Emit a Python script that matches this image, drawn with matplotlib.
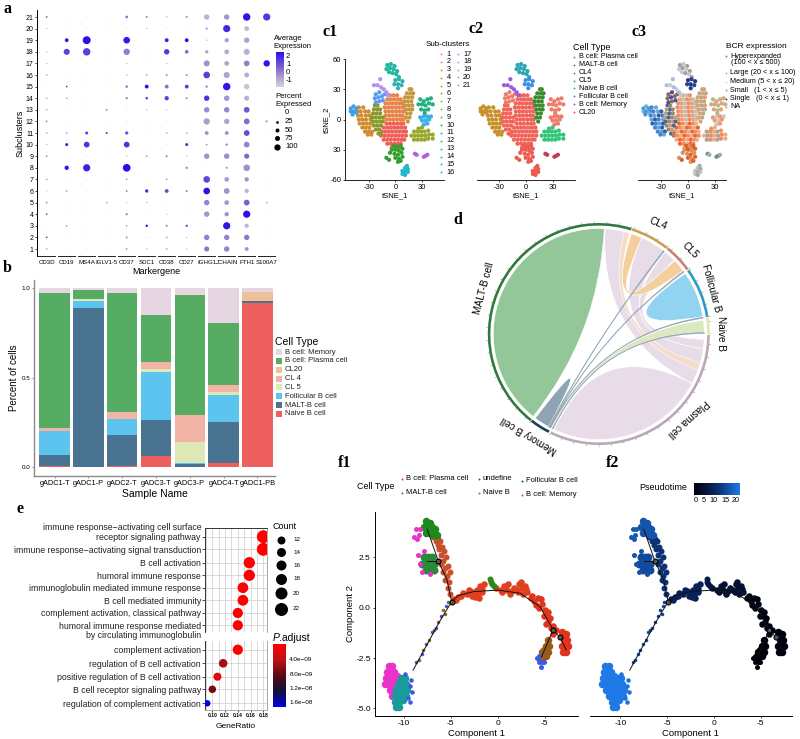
import matplotlib
matplotlib.use('Agg')
import matplotlib.pyplot as plt
import numpy as np
from matplotlib.colors import LinearSegmentedColormap
from matplotlib.patches import Wedge, PathPatch, Rectangle
from matplotlib.path import Path

plt.rcParams['font.family'] = ['Liberation Sans', 'DejaVu Sans']
plt.rcParams['axes.unicode_minus'] = False

W, H = 800, 739

######### panel a: dot plot #########
genes = ['CD3D', 'CD19', 'MS4A', 'IGLV1-5', 'CD37', 'SDC1', 'CD38', 'CD27', 'IGHG1', 'JCHAIN', 'FTH1', 'S100A7']
subclusters = list(range(21, 0, -1))
pct = [
    [5, 1, 1, 1, 10, 5, 3, 5, 40, 40, 75, 70],
    [2, 1, 1, 1, 1, 2, 1, 1, 5, 70, 30, 1],
    [1, 20, 85, 1, 60, 1, 20, 20, 3, 25, 40, 1],
    [2, 50, 75, 1, 55, 1, 40, 18, 15, 30, 50, 1],
    [2, 1, 1, 1, 2, 1, 2, 1, 50, 30, 45, 55],
    [3, 1, 1, 1, 3, 3, 6, 5, 60, 50, 30, 1],
    [1, 5, 1, 1, 8, 20, 20, 20, 6, 75, 40, 1],
    [3, 3, 1, 1, 6, 8, 25, 5, 40, 40, 35, 1],
    [3, 1, 1, 4, 1, 2, 2, 1, 40, 40, 45, 1],
    [4, 1, 1, 1, 1, 1, 1, 1, 55, 40, 45, 5],
    [3, 3, 12, 5, 15, 1, 3, 3, 20, 20, 45, 1],
    [2, 12, 45, 1, 45, 1, 1, 12, 3, 6, 45, 1],
    [4, 1, 1, 1, 2, 3, 5, 2, 40, 40, 35, 1],
    [1, 25, 70, 1, 80, 1, 1, 8, 1, 5, 60, 1],
    [3, 1, 1, 1, 3, 1, 3, 1, 60, 30, 25, 1],
    [2, 3, 1, 1, 4, 15, 20, 5, 60, 45, 25, 1],
    [4, 1, 1, 3, 2, 2, 1, 1, 40, 30, 45, 4],
    [5, 1, 1, 1, 6, 1, 2, 1, 40, 25, 70, 1],
    [1, 3, 1, 1, 3, 8, 6, 8, 1, 70, 25, 1],
    [5, 1, 1, 1, 5, 1, 4, 2, 40, 40, 40, 1],
    [3, 1, 1, 1, 4, 2, 4, 2, 35, 40, 20, 1],
]
expr = [
    [.3, -1, -1, -1, .3, .3, -.5, 0, -.6, -.2, 1.9, 1.3],
    [-.5, -1, -1, -1, -1, -.5, -1, -1, .3, 1.6, -.7, -1],
    [-1, 1.8, 2, -1, 1.8, -1, 1.8, 2, -.7, -.3, -.4, -1],
    [-.5, 1.2, 1.2, -1, .2, -1, 1.3, .5, -.3, -.5, -.6, -1],
    [-.5, -1, -1, -1, -.5, -1, -.5, -1, -.1, -.4, .2, 1.9],
    [-.2, -1, -1, -1, -.5, .2, -.2, .2, 1.2, -.4, -.5, -1],
    [-1, .8, -1, -1, .5, 2, .4, 1.2, .5, 1.9, -.9, -1],
    [-.2, 0, -1, -1, .3, 1.5, 1.2, .2, 1.4, -.1, -.6, -1],
    [-.2, -1, -1, .3, -.6, -.3, -.7, -.8, 0, .1, .8, -1],
    [.3, -1, -1, -1, -.8, -1, -.9, -.9, -.3, -.4, .5, .2],
    [-.2, .2, 1.2, 1.5, .9, -.9, -.2, -.2, -.1, -.1, 1, -1],
    [-.4, 1.8, 1.4, -1, 1.4, -1, -1, 1.5, .4, .5, .1, -1],
    [.2, -1, -1, -1, -.5, .2, .4, -.5, -.1, 0, .6, -1],
    [-1, 1.9, 1.7, -1, 2, -1, -1, 0, -.8, .2, -.1, -1],
    [0, -1, -1, -1, .2, -.9, .3, -1, 1.1, -.3, -.1, -1],
    [-.6, .3, -1, -1, .4, 1.6, 1, .4, 2, -.1, -.7, -1],
    [.2, -1, -1, 0, -.8, -.3, -.9, -.9, .1, -.2, .7, -.6],
    [.5, -1, -1, -1, .3, -.8, -.7, -1, -.2, -.1, 2, -1],
    [-1, .2, -.9, -1, .1, 1.8, .1, .8, -1, 1.9, -.7, -1],
    [.7, -1, -1, -1, .1, -.6, -.3, -.5, .2, .1, .3, -1],
    [-.1, -1, -1, -1, .1, .1, -.3, -.6, .3, .1, -.1, -1],
]

######### panel b: stacked bars #########
samples = ['gADC1-T', 'gADC1-P', 'gADC2-T', 'gADC3-T', 'gADC3-P', 'gADC4-T', 'gADC1-PB']
stack_names = ['Naive B cell', 'MALT-B cell', 'Follicular B cell', 'CL 5', 'CL 4', 'CL20', 'B cell: Plasma cell', 'B cell: Memory']
stack_colors = ['#ee6060', '#4a7391', '#5dc4ef', '#dde8b4', '#f2b4a6', '#f0c09a', '#55ac62', '#e6d6e2']
naive_b = [.005, 0, .005, .06, 0, .02, .915]
malt_b = [.06, .89, .175, .205, .015, .23, .01]
follicular_b = [.135, .04, .09, .265, .005, .155, 0]
cl5 = [0, .01, 0, .015, .12, .015, 0]
cl4 = [.02, 0, .035, .04, .15, .04, 0]
cl20 = [0, 0, 0, 0, 0, 0, .055]
plasma = [.75, .05, .665, .265, .67, .345, 0]
memory = [.03, .01, .03, .15, .04, .195, .02]

######### panel c: tSNE cells, one list per sub-cluster #########
red_pts = [(-10,-4),(-6,-4),(-2,-4),(2,-4),(6,-4),(9,-4),(-13,-8),(-9,-8),(-5,-8),(-1,-8),(3,-8),(7,-8),(11,-8),
           (-15,-12),(-11,-12),(-7,-12),(-3,-12),(1,-12),(5,-12),(9,-12),(12,-12),(-16,-16),(-12,-16),(-8,-16),(-4,-16),
           (0,-16),(4,-16),(8,-16),(12,-16),(-13,-20),(-9,-20),(-5,-20),(-1,-20),(3,-20),(7,-20),(10,-20),(-9,-24),(-5,-24),
           (-1,-24),(3,-24),(6,-24),(-4,-28),(0,-28),(4,-28)]
orange_pts = [(-6,24),(-2,24),(2,24),(-9,20),(-5,20),(-1,20),(3,20),(6,20),(-11,16),(-7,16),(-3,16),(1,16),(5,16),(8,16),
              (-12,12),(-8,12),(-4,12),(0,12),(4,12),(8,12),(-11,8),(-7,8),(-3,8),(1,8),(5,8),(9,8),(-11,4),(-7,4),(-3,4),(1,4),
              (5,4),(8,4),(-10,0),(-6,0),(-2,0),(2,0),(6,0),(9,0)]
tan_pts = [(16,30),(18,30),(13,26),(17,26),(20,26),(11,22),(15,22),(19,22),(10,18),(14,18),(18,18),(11,14),(15,14),(19,14),
           (12,10),(16,10),(19,10),(13,6),(17,6),(12,2),(16,2),(14,-2)]
left_orange_pts = [(-41,12),(-36,12),(-43,8),(-39,8),(-34,8),(-30,8),(-42,4),(-38,4),(-33,4),(-29,4),(-41,0),(-37,0),(-33,0),(-28,0),
                   (-40,-4),(-36,-4),(-32,-4),(-28,-4),(-37,-8),(-33,-8),(-29,-8),(-34,-12),(-30,-12),(-26,-12),(-31,-15),(-27,-15)]
olive_left_pts = [(-23,14),(-20,14),(-24,10),(-20,10),(-17,10),(-25,6),(-21,6),(-17,6),(-26,2),(-22,2),(-18,2),(-14,2),(-25,-2),
                  (-21,-2),(-17,-2),(-14,-2),(-24,-6),(-20,-6),(-16,-6),(-22,-10),(-18,-10),(-19,-14),(-16,-14)]
left_blue_pts = [(-50,11),(-47,13),(-44,11),(-50,8),(-47,8),(-44,7),(-48,5)]
mid_blue_pts = [(-22,25),(-18,27),(-23,21),(-19,22),(-15,23),(-22,17),(-18,18),(-14,19),(-12,25)]
strand_pts = [(-24,34),(-20,34),(-16,32),(-13,30),(-10,27),(-8,24),(-17,40)]
top_teal_pts = [(-9,54),(-5,55),(-1,53),(-10,50),(-6,51),(-2,50),(2,48),(-7,47),(-3,46),(1,45),(4,42)]
low_teal_pts = [(0,39),(4,40),(8,38),(-1,35),(3,35),(7,34),(3,31)]
right_green_pts = [(28,20),(32,18),(36,20),(40,21),(26,15),(30,15),(34,14),(38,16),(42,15),(29,10),(33,9),(37,10),(33,6)]
right_blue_pts = [(28,2),(32,3),(36,3),(40,3),(30,-1),(34,-1),(38,0),(32,-5),(36,-4)]
olive_right_pts = [(26,-9),(30,-8),(21,-12),(25,-12),(29,-12),(33,-12),(37,-11),(18,-16),(22,-16),(26,-16),(30,-16),(34,-16),(38,-15),
                   (42,-15),(21,-20),(25,-20),(29,-20),(33,-20),(37,-19),(42,-19)]
green_low_pts = [(-2,-26),(2,-27),(6,-26),(-4,-30),(0,-30),(4,-31),(8,-29),(-1,-34),(3,-35),(7,-33),(0,-38),(4,-39),(8,-37),(3,-42),
                 (6,-41),(-10,-38),(-7,-40),(-6,-33)]
bottom_teal_pts = [(13,-46),(11,-48),(14,-49),(8,-51),(11,-52),(8,-54),(11,-55),(14,-52)]
small_purple_pts = [(22,-34),(24,-35),(34,-36),(36,-35),(32,-37)]

tsne_clusters = [red_pts, orange_pts, tan_pts, left_orange_pts, olive_left_pts, left_blue_pts, mid_blue_pts, strand_pts,
                 top_teal_pts, low_teal_pts, right_green_pts, right_blue_pts, olive_right_pts, green_low_pts,
                 bottom_teal_pts, small_purple_pts]
c1_colors = ['#ef5f55', '#e8844a', '#c8963c', '#d08a30', '#8a9a2a', '#3f9fe8', '#5a9cf0', '#b090f0',
             '#20b8a0', '#30b0b0', '#20b080', '#35b0e8', '#9aa82e', '#30a030', '#20b8c8', '#b060e0']
c2_colors = ['#f0645a', '#f0645a', '#3a8a30', '#c8902a', '#f0645a', '#c8902a', '#ee7a6a', '#9a5ae0',
             '#2aa5b5', '#3b8ee0', '#ee7a6a', '#ee7a6a', '#33c47a', '#ec5a50', '#ec5a50', '#c04050']
c3_colors = [['#f0642a', '#f08a5a', '#e8b090'], ['#eea078', '#c8c0b0', '#e89068'], ['#b8a890', '#e0a070'],
             ['#3f84cc', '#6aa4dc', '#2f60a8'], ['#4a6a90', '#9a8a70', '#c0a080'], ['#4a94dc', '#6ab0e8'],
             ['#8a6a60', '#5a4a90'], ['#a8c0e0', '#c8c8d0'], ['#a0a0a0', '#c8c8c8'], ['#1f3a90', '#30408f'],
             ['#b0b890', '#e8a070'], ['#e89a70', '#e0c0b0'], ['#e89060', '#e8b088', '#b0a090'], ['#e06020', '#d89060'],
             ['#a8a8a8', '#c0c0c0'], ['#70908a', '#a0b0a8']]
sub_colors = ['#F8766D', '#EE8042', '#E38900', '#D59100', '#C49A00', '#B0A100', '#99A800', '#7CAE00', '#53B400', '#00B823',
              '#00BC56', '#00BF7D', '#00C19F', '#00BFC4', '#00B8E5', '#00ADFA', '#619CFF', '#AC88FF', '#DB72FB', '#F066EA', '#FF61CC']
c2_legend = ['B cell: Plasma cell', 'MALT-B cell', 'CL4', 'CL5', 'Naive B cell', 'Follicular B cell', 'B cell: Memory', 'CL20']
c2_legend_colors = ['#e8504a', '#8a5a30', '#8a7020', '#3a9a50', '#30a0a0', '#3a80d8', '#9040c0', '#e04060']
c3_legend = ['Large (20 < x ≤ 100)', 'Medium (5 < x ≤ 20)', 'Small   (1 < x ≤ 5)', 'Single   (0 < x ≤ 1)', 'NA']
c3_legend_colors = ['#c8a070', '#d8d8c8', '#80a090', '#203060', '#a0a0a0']

######### panel d: chord diagram, spans in degrees #########
sector_names = ['MALT-B cell', 'Memory B cell', 'Plasma cell', 'Naive B', 'Follicular B', 'CL5', 'CL4']
sector_start = [72.8, 232.2, 244, 0, 9, 36, 51.6]
sector_end = [231.8, 243, 359.5, 8.6, 35.4, 51.2, 72.4]
sector_colors = ['#2e7a3c', '#1e3a5a', '#b8a8b8', '#dce8a0', '#2a9ac8', '#c88070', '#c8a050']
pink = '#e8dce8'
links = [
    (245, 332, None, None, pink),
    (73.5, 86.5, 332, 342, pink),
    (52, 66, 342, 352, pink),
    (44.5, 51, 352, 357, pink),
    (73, 76, 340, 344, '#f5dcc8'),
    (37, 44, 66, 72, '#f4cf9c'),
    (87, 231.5, None, None, '#93c79a'),
    (9.5, 35, None, None, '#93d3f2'),
    (233, 241.5, None, None, '#8ea3b3'),
    (1, 7.5, 243.2, 243.9, '#dbe8c0'),
    (51.6, 52.2, 241.6, 242.1, '#8ea3b3'),
    (36, 36.6, 242.1, 242.5, '#8ea3b3'),
    (8.6, 9.2, 242.5, 242.9, '#8ea3b3'),
    (.3, .9, 243.9, 244.3, '#8ea3b3'),
]

######### panel e: enrichment dots #########
go_terms = ['receptor signaling pathway', 'immune response−activating signal transduction', 'B cell activation',
            'humoral immune response', 'immunoglobulin mediated immune response', 'B cell mediated immunity',
            'complement activation, classical pathway', 'humoral immune response mediated',
            'complement activation', 'regulation of B cell activation', 'positive regulation of B cell activation',
            'B cell receptor signaling pathway', 'regulation of complement activation']
gene_ratio = [.18, .18, .158, .158, .148, .148, .14, .14, .14, .117, .108, .10, .092]
go_count = [23, 23, 20, 20, 19, 19, 18, 18, 18, 15, 14, 13, 11]
go_padj = [1e-10, 1e-10, 1e-10, 1e-10, 2e-10, 2e-10, 3e-10, 3e-10, 3e-10, 5e-9, 2e-9, 7e-9, 1.6e-8]
count_levels = [12, 14, 16, 18, 20, 22]

######### panel f: trajectory cells, groups of (x, y) #########
tree_main_x = [-9, -7.6, -6.2, -4.9, -4.2, -2.6, 0, 2.4, 4.5, 5.9, 6.6, 7.3]
tree_main_y = [-3.1, -1.9, -.7, .3, .6, .8, .88, .72, .05, -1.1, -1.45, -2.1]
tree_up_x = [-4.9, -5.4, -6.3, -7.5]
tree_up_y = [.3, 1.4, 2.3, 3.9]
tree_mid_x = [-6.3, -7.5]
tree_mid_y = [2.3, 2.3]
tree_down_x = [5.9, 4.65]
tree_down_y = [-1.1, -2.45]
node_x = [-6.3, -4.9, 5.9, 6.6]
node_y = [2.3, .3, -1.1, -1.45]

bl_magenta = [(-11.6,-2.9),(-11.2,-2.9),(-11.8,-3.2),(-11.4,-3.2),(-11,-3.2),(-11.9,-3.5),(-11.5,-3.5),(-11.1,-3.5),(-10.7,-3.4),
              (-12,-3.8),(-11.6,-3.8),(-11.2,-3.8),(-10.8,-3.7),(-11.5,-4.1),(-11.1,-4.1),(-11.2,-4.4)]
bl_teal = [(-10.3,-3.5),(-9.9,-3.5),(-10.6,-3.8),(-10.2,-3.8),(-9.8,-3.8),(-10.8,-4.1),(-10.4,-4.1),(-10,-4.1),(-9.6,-4.1),(-10.9,-4.4),
           (-10.5,-4.4),(-10.1,-4.4),(-9.7,-4.4),(-10.9,-4.7),(-10.5,-4.7),(-10.1,-4.6),(-10.8,-4.95),(-10.5,-4.95)]
bl_blue = [(-9.3,-3.9),(-9.1,-4.2),(-9.5,-4.5),(-9.3,-4.7),(-9.9,-3.3),(-9.2,-3.6)]
stem_brown = [(-8.4,-2.6),(-7.9,-2.1),(-7.3,-1.6),(-6.3,-.7),(-5.8,-.1),(-5.3,.3),(-6.8,-1.1),(-5.6,-.3)]
stem_blue = [(-8.7,-2.7),(-8.1,-2.3),(-7.6,-1.8),(-7.0,-1.2),(-6.6,-1.0),(-6.0,-.4),(-5.5,.1)]
branch_red = [(-5.1,.7),(-5.3,1.0),(-5.2,1.3),(-5.4,1.6),(-5.1,1.8),(-5.6,2.0),(-5.3,2.1),(-5.8,2.3),(-5.5,2.5),(-6,2.6),(-5.7,2.8),
              (-6.2,2.9),(-5.9,3),(-6.4,3.1),(-6.6,3.3),(-6.9,3.5),(-6.3,3.4),(-5.6,1.4),(-5.8,1.8),(-6,2.2),(-6.1,3.3)]
top_green = [(-7.6,4.3),(-7.2,4.2),(-7.8,4.0),(-7.4,4.0),(-7,4),(-6.7,3.9),(-7.6,3.7),(-7.2,3.7),(-6.8,3.6),(-6.5,3.6)]
top_magenta = [(-8.7,3.9),(-8.9,3.5),(-8.6,3.4),(-8.4,3.6),(-8.3,3.9)]
mid_green = [(-7.8,2.5),(-7.4,2.5),(-7,2.5),(-8,2.2),(-7.6,2.2),(-7.2,2.2),(-6.8,2.2),(-7.6,1.9),(-7.2,1.9),(-6.8,1.9)]
mid_magenta = [(-8.5,2.6),(-8.3,2.2),(-8.0,1.8),(-7.2,1.7),(-7.8,2.8)]
arc_left = [(-4.6,.45),(-4.2,.55),(-3.7,.75),(-3.3,.7),(-2.9,.85),(-2.5,.8),(-2.1,.7),(-2.4,.55),(-2,.5),(-1.7,.8),(-1.9,1.1),(-1.5,1.2),
            (-1.7,.95),(-3.9,.6),(-3.1,.9),(-2.7,.6),(-2.2,.9),(-4.4,.4)]
arc_mid = [(-.2,1),(.3,.9),(.7,1.1),(1,.9),(1.3,.7),(1.7,1),(2.0,.9),(2.3,1.2),(2.6,1.0),(2.9,1.1),(3.1,.8),(2.7,.7),(.5,.8),(1.1,1.2),
           (1.5,.85),(2.2,.8),(2.5,1.3),(3,.95)]
arc_green = [(-.8,1.45),(-.6,1.2),(-.4,1.1),(-.7,1.3)]
arc_right = [(3.5,.5),(3.9,.35),(4.3,.5),(4.7,.2),(4.4,0),(5,-.1),(5.2,-.4),(4.9,-.4),(5.4,-.7),(5.1,-.8),(5.7,-1),(5.9,-1.3),(6.2,-1.1),(5.9,-.9),
             (3.7,.6),(4.1,.15),(4.6,.45),(5.3,-.2),(5.6,-.5)]
tail_red = [(6.8,-1.2),(7.3,-1.3),(7,-1.6),(7.4,-1.6),(6.8,-1.9),(7.2,-1.9),(7.5,-1.9),(6.9,-2.2),(7.3,-2.2)]
tail_brown = [(5.3,-1.6),(5.5,-1.9),(5.1,-1.9),(4.9,-2.1),(5.3,-2.2),(4.7,-2.2),(5.1,-2.4),(4.7,-2.5)]
tail_blue = [(4.4,-2.4),(4.7,-2.7),(4.4,-2.7),(4.2,-2.5),(4.6,-2.95),(4.9,-2.7)]

f_groups = [bl_magenta, bl_teal, bl_blue, stem_brown, stem_blue, branch_red, top_green, top_magenta, mid_green, mid_magenta,
            arc_left, arc_mid, arc_green, arc_right, tail_red, tail_brown, tail_blue]
f_colors = ['#e832c8', '#1a9a9a', '#3a5ae0', '#8a6a20', '#3a5ae0', '#c8502a', '#1c8a1c', '#e832c8', '#2a8a3a', '#e832c8',
            '#e0401e', '#e0401e', '#2a8a1c', '#e0341e', '#e0341e', '#9a5a1a', '#3a5ae0']
f_pseudotime = [20, 20, 19, 13, 14, 11, 15, 16, 14, 15, 8, 4, 6, 1, .5, 0, 0]
f_sizes = [7.5, 7.5, 4.5, 3.5, 3.5, 6, 7.5, 5, 8, 5, 6.5, 6.5, 6, 6.5, 7.5, 7.5, 5]


def axpx(l, t, r, b):
    return fig.add_axes([l / W, 1 - b / H, (r - l) / W, (b - t) / H])


def dot(d):
    # diameter in pixels to scatter size
    return (np.asarray(d, dtype=float) * .72) ** 2


fig = plt.figure(figsize=(W / 100, H / 100), dpi=100)

#########  a  #########
dot_cmap = LinearSegmentedColormap.from_list('dot', ['#d6d4dc', '#8a70cc', '#2a10e8'])
ax = axpx(37, 10, 275, 256)
gx, gy = np.meshgrid(np.arange(len(genes)), subclusters)
ax.scatter(gx.ravel(), gy.ravel(), s=dot(8.6 * np.sqrt(np.array(pct).ravel() / 100)), c=np.array(expr).ravel(),
           cmap=dot_cmap, vmin=-1.2, vmax=2, linewidths=0, clip_on=False)
ax.set_xlim(-.485, 11.415)
ax.set_ylim(1 - 7 / 11.6, 21 + 7 / 11.6)
ax.set_yticks(subclusters)
ax.set_xticks(range(len(genes)))
ax.set_xticklabels(genes, fontsize=4.4)
ax.tick_params(axis='y', labelsize=5, length=1.5, width=.5, pad=1)
ax.tick_params(axis='x', length=0, pad=3)
for s in ['top', 'right', 'bottom']:
    ax.spines[s].set_visible(False)
ax.spines['left'].set_linewidth(.7)
for i in range(len(genes)):
    ax.plot([i - .42, i + .42], [ax.get_ylim()[0]] * 2, color='#222222', lw=.7, clip_on=False)
ax.set_xlabel('Markergene', fontsize=6.5, labelpad=1)
ax.set_ylabel('Subclusters', fontsize=6.5, labelpad=1)

cb = axpx(275.5, 52, 283, 87)
cb.imshow(np.linspace(1, 0, 100).reshape(-1, 1), cmap=dot_cmap, aspect='auto')
cb.axis('off')

#########  b  #########
ax = axpx(34.3, 280, 275, 476)
stacks = [naive_b, malt_b, follicular_b, cl5, cl4, cl20, plasma, memory]
bottom = np.zeros(len(samples))
for vals, col in zip(stacks, stack_colors):
    ax.bar(range(len(samples)), vals, bottom=bottom, width=.9, color=col, linewidth=0)
    bottom += np.array(vals)
ax.set_xlim(-.6, 6.52)
ax.set_ylim(-.05, 1.045)
ax.set_xticks(range(len(samples)))
ax.set_xticklabels(samples, fontsize=5.3)
ax.set_yticks([0, .5, 1])
ax.set_yticklabels(['0.0', '0.5', '1.0'], fontsize=4.5)
ax.tick_params(length=1.5, width=.5, pad=1.5, color='#666666')
for s in ['top', 'right']:
    ax.spines[s].set_visible(False)
for s in ['left', 'bottom']:
    ax.spines[s].set_color('#8a8a8a')
    ax.spines[s].set_linewidth(1)
ax.set_xlabel('Sample Name', fontsize=7.5, labelpad=1.5)
ax.set_ylabel('Percent of cells', fontsize=7, labelpad=2)

#########  c  #########
for (l, r, xl, ylab) in [(345.3, 444, (-56.2, 54.7), True), (477, 575, (-54.1, 55), False), (638, 726, (-56.2, 42.7), False)]:
    ax = axpx(l, 59, r, 180)
    for k, pts in enumerate(tsne_clusters):
        xs, ys = zip(*pts)
        if ylab:
            cols = [c1_colors[k]] * len(pts)
        elif l < 600:
            cols = [c2_colors[k]] * len(pts)
        else:
            cols = [c3_colors[k][i % len(c3_colors[k])] for i in range(len(pts))]
        ax.scatter(xs, ys, s=dot(4.2), c=cols, linewidths=0, clip_on=False)
    ax.set_xlim(*xl)
    ax.set_ylim(-60, 60)
    ax.set_xticks([-30, 0, 30])
    ax.tick_params(labelsize=5.5, length=1.5, width=.5, pad=1.5)
    for s in ['top', 'right']:
        ax.spines[s].set_visible(False)
    ax.spines['bottom'].set_linewidth(.6)
    ax.spines['left'].set_linewidth(.6)
    if ylab:
        ax.set_yticks([60, 30, 0, -30, -60])
        ax.set_yticklabels(['60', '30', '0', '30', '-60'])
        ax.set_ylabel('tSNE_2', fontsize=5.5, labelpad=0)
    else:
        ax.spines['left'].set_visible(False)
        ax.set_yticks([])
    ax.set_xlabel('tSNE_1', fontsize=5.5, labelpad=1)

#########  d  #########
ax = axpx(598.8 - 130, 334 - 130, 598.8 + 130, 334 + 130)
ax.set_xlim(-130, 130)
ax.set_ylim(-130, 130)
ax.axis('off')
R_link = 105.5


def pol(a, r=R_link):
    return (r * np.cos(np.radians(a)), r * np.sin(np.radians(a)))


def ribbon(a1, a2, b1, b2, color):
    verts = [pol(a) for a in np.linspace(a1, a2, 40)]
    codes = [Path.MOVETO] + [Path.LINETO] * 39
    if b1 is not None:
        verts += [(0, 0), pol(b1)]
        codes += [Path.CURVE3, Path.CURVE3]
        arc = [pol(a) for a in np.linspace(b1, b2, 30)]
        verts += arc[1:]
        codes += [Path.LINETO] * 29
    verts += [(0, 0), pol(a1)]
    codes += [Path.CURVE3, Path.CURVE3]
    lw = .3 if abs(a2 - a1) < 1.5 else 0.4
    ax.add_patch(PathPatch(Path(verts, codes), facecolor=color, edgecolor='#8ea3b3' if abs(a2 - a1) < 1.5 else 'white', lw=lw))


for a1, a2, b1, b2, col in links:
    ribbon(a1, a2, b1, b2, col)
for st, en, col in zip(sector_start, sector_end, sector_colors):
    ax.add_patch(Wedge((0, 0), 111, st, en, width=2.6, facecolor=col, edgecolor='none'))
    for a in np.arange(st, en, 6.5):
        p0, p1 = pol(a, 111), pol(a, 112.5)
        ax.plot([p0[0], p1[0]], [p0[1], p1[1]], color='#666666', lw=.3)

#########  e  #########
top_ax = axpx(205, 528, 267, 632)
bot_ax = axpx(205, 641, 267, 710)
count_d = {12: 8, 14: 9, 16: 10, 18: 11, 20: 12, 22: 13}
p_cmap = LinearSegmentedColormap.from_list('padj', ['#ff0000', '#c01018', '#5a0a14', '#10103a', '#0000e8'])
row_px = [536.7, 549.3, 562.7, 575.3, 587.7, 600.3, 613, 625.3, 649.7, 663.3, 676.7, 689.3, 703.3]
for a_, idx, (t, b) in [(top_ax, range(0, 8), (528, 632)), (bot_ax, range(8, 13), (641, 710))]:
    ys = [row_px[i] for i in idx]
    a_.set_axisbelow(True)
    a_.grid(True, which='both', color='#cccccc', lw=.5)
    a_.set_xlim(.0885, .1858)
    a_.set_ylim(b, t)
    a_.set_yticks(ys)
    a_.set_yticklabels([go_terms[i] for i in idx], fontsize=6.3, color='#222222')
    a_.set_xticks([.10, .12, .14, .16, .18])
    a_.set_xticks([.09, .11, .13, .15, .17], minor=True)
    a_.tick_params(which='minor', length=0)
    a_.tick_params(axis='y', length=2, width=.5, pad=1)
    a_.scatter([gene_ratio[i] for i in idx], ys, s=dot([.54 * go_count[i] + 0.5 for i in idx]),
               c=[go_padj[i] for i in idx], cmap=p_cmap, vmin=0, vmax=1.6e-8, linewidths=0, zorder=3)
    for s in ['right', 'bottom']:
        a_.spines[s].set_color('#aaaaaa')
    for s in ['left', 'top']:
        a_.spines[s].set_color('#333333')
    for s in a_.spines.values():
        s.set_linewidth(.7)
top_ax.tick_params(axis='x', which='both', length=0, labelbottom=False)
top_ax.spines['bottom'].set_visible(False)
bot_ax.spines['top'].set_visible(False)
bot_ax.set_xticklabels(['0.10', '0.12', '0.14', '0.16', '0.18'], fontsize=3.6, fontweight='bold')
bot_ax.tick_params(axis='x', length=1.5, width=.5, pad=1)
bot_ax.set_xlabel('GeneRatio', fontsize=6, labelpad=3)

cb = axpx(272.7, 644, 285, 706.7)
cb.imshow(np.linspace(0, 1, 100).reshape(-1, 1), cmap=p_cmap, aspect='auto')
cb.axis('off')

#########  f  #########
pseudo_cmap = LinearSegmentedColormap.from_list('pseudo', ['#00000a', '#0a2a6a', '#1f7ae8'])
for l, r, is_f1 in [(375, 578, True), (590, 791.7, False)]:
    ax = axpx(l, 512, r, 716)
    for k, pts in enumerate(f_groups):
        xs, ys = zip(*pts)
        col = f_colors[k] if is_f1 else pseudo_cmap(f_pseudotime[k] / 20)
        ax.scatter(xs, ys, s=dot(f_sizes[k]), color=col, linewidths=0, zorder=2)
    for tx, ty in [(tree_main_x, tree_main_y), (tree_up_x, tree_up_y), (tree_mid_x, tree_mid_y), (tree_down_x, tree_down_y)]:
        ax.plot(tx, ty, color='#111111', lw=.7, zorder=3)
    ax.scatter(node_x, node_y, s=dot(5), facecolor='#555555', edgecolor='black', linewidths=.8, zorder=4)
    if is_f1:
        ax.set_xlim(-13.05, 8.54)
        ax.set_yticks([2.5, 0, -2.5, -5])
        ax.set_yticklabels(['2.5', '0.0', '-2.5', '-5.0'])
        ax.set_ylabel('Component 2', fontsize=6.8, labelpad=1)
        ax.spines['left'].set_linewidth(.7)
    else:
        ax.set_xlim(-13.25, 8.3)
        ax.set_yticks([])
        ax.spines['left'].set_visible(False)
    ax.set_ylim(-5.38, 4.76)
    ax.set_xticks([-10, -5, 0, 5])
    ax.set_xticklabels(['-10', '-5', '0', '-5'])
    ax.tick_params(labelsize=6, length=1.5, width=.5, pad=1.5)
    ax.spines['bottom'].set_linewidth(.7)
    for s in ['top', 'right']:
        ax.spines[s].set_visible(False)
    ax.set_xlabel('Component 1', fontsize=6.8, labelpad=1)

cb = axpx(694, 482.7, 739.3, 495)
cb.imshow(np.linspace(0, 1, 100).reshape(1, -1), cmap=pseudo_cmap, aspect='auto')
cb.axis('off')

#########  all the loose text and legend keys, on one pixel-scaled layer  #########
ov = fig.add_axes([0, 0, 1, 1], zorder=10)
ov.set_xlim(0, W)
ov.set_ylim(H, 0)
ov.axis('off')


def txt(x, y, s, size=5.5, **kw):
    kw.setdefault('va', 'center')
    ov.text(x, y, s, fontsize=size, **kw)


def key(x, y, col, d=2):
    ov.scatter([x], [y], s=dot(d), color=col, linewidths=0)


for s_, x_, y_ in [('a', 7, 9), ('b', 7, 268), ('c1', 330, 32), ('c2', 476, 29), ('c3', 639, 32), ('d', 458, 220), ('e', 20, 509),
                   ('f1', 345, 462.7), ('f2', 613, 463)]:
    txt(x_, y_, s_, 11.5, family='Liberation Serif', fontweight='bold', ha='center')

# a legend
txt(273.5, 39, 'Average', 5.5)
txt(273.5, 47, 'Expression', 5.5)
for v, y_ in zip(['2', '1', '0', '-1'], [56, 64.7, 72.7, 81]):
    txt(286, y_, v, 5.5)
txt(275, 97, 'Percent', 5.5)
txt(275, 104, 'Expressed', 5.5)
for v, y_, d_ in zip(['0', '25', '50', '75', '100'], [113, 121.6, 130, 138, 147], [.3, 2.7, 4, 5, 6.3]):
    key(277, y_, 'black', d_)
    txt(285, y_, v, 5.5)

# b legend
txt(275, 342, 'Cell Type', 7.5)
for k, name in enumerate(stack_names[::-1]):
    y_ = 352 + 8.85 * k
    ov.add_patch(Rectangle((276, y_ - 3), 6, 6, facecolor=stack_colors[::-1][k], edgecolor='none'))
    txt(285, y_, name, 5.5, color='#222222')

# c1 legend
txt(425.7, 45, 'Sub-clusters', 5.8)
for k in range(16):
    key(440.7, 54 + 7.89 * k, sub_colors[k], 1.8)
    txt(446.7, 54 + 7.89 * k, str(k + 1), 5.2)
for k in range(5):
    key(458, 54 + 7.8 * k, sub_colors[16 + k], 1.8)
    txt(463, 54 + 7.8 * k, str(17 + k), 5.2)

# c2 legend
txt(573, 47, 'Cell Type', 6.5)
for k, name in enumerate(c2_legend):
    key(574, 57 + 7.86 * k, c2_legend_colors[k], 1.8)
    txt(579, 57 + 7.86 * k, name, 5.2)

# c3 legend
txt(726, 46, 'BCR expression', 6)
key(726, 56, '#e85030', 1.8)
txt(730, 56, 'Hyperexpanded', 5.2)
txt(731, 63, '(100 < x ≤ 500)', 5.2)
for k, name in enumerate(c3_legend):
    key(726, 73 + 8.5 * k, c3_legend_colors[k], 1.8)
    txt(730, 73 + 8.5 * k, name, 5.2)

# d sector labels
for s_, x_, y_, rot in [('MALT-B cell', 484.3, 288.3, 75), ('CL4', 658.3, 224, -22), ('CL5', 690, 250, -45), ('Follicular B', 711, 288.3, -75),
                        ('Naive B', 720.7, 333.3, -90), ('Plasma cell', 688.3, 418.3, 222), ('Memory B cell', 529.3, 435, 149)]:
    txt(x_, y_, s_, 7.2, ha='center', rotation=rot, rotation_mode='anchor')

# e extras and legends
txt(201.5, 528, 'immune response−activating cell surface', 6.3, ha='right', color='#222222')
txt(201.5, 635, 'by circulating immunoglobulin', 6.3, ha='right', color='#222222')
txt(272.7, 526.7, 'Count', 6.5)
for c_, y_ in zip(count_levels, [539.7, 552, 565.3, 579, 593.3, 608.7]):
    key(280.7, y_, 'black', count_d[c_])
    txt(293, y_, str(c_), 4.5)
txt(272.7, 637.7, 'P', 7.5, style='italic')
txt(278.5, 637.7, '.adjust', 7.5)
for v, y_ in zip(['4.0e−09', '8.0e−09', '1.2e−08', '1.6e−08'], [659.7, 674.3, 689, 703]):
    txt(289.3, y_, v, 4.6)

# f legends
txt(356.7, 486.7, 'Cell Type', 6.5)
for x_, y_, s_, col in [(402, 479, 'B cell: Plasma cell', '#e8304a'), (402, 493, 'MALT-B cell', '#3a8a30'), (479.3, 479, 'undefine', '#406060'),
                        (479.3, 493, 'Naive B', '#20a0a0'), (522, 481, 'Follicular B cell', '#304080'), (522, 495, 'B cell: Memory', '#e040a0')]:
    key(x_, y_, col, 2)
    txt(x_ + 3.5, y_, s_, 5.5)
txt(639, 488, 'Pseudotime', 6.5)
for v, x_ in zip(['0', '5', '10', '15', '20'], [695.5, 703.5, 713.5, 725, 736]):
    txt(x_, 501, v, 5.2, ha='center')

fig.savefig('out.png', dpi=100)
